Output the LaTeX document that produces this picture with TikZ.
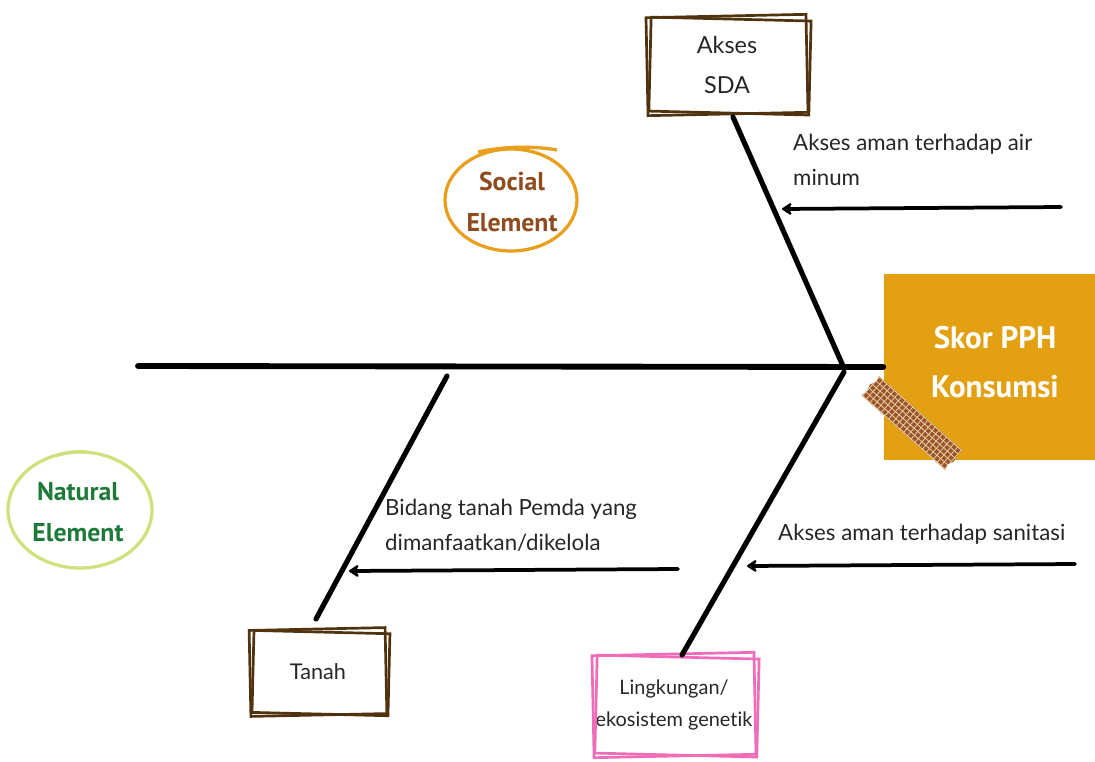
\documentclass[tikz,border=0pt]{standalone}
\usepackage{fontspec}
\setmainfont{Lato}[Ligatures=NoCommon]
\newfontfamily\titlefont{PT Sans}
\usetikzlibrary{arrows.meta,calc}

\definecolor{headgold}{HTML}{E3A012}
\definecolor{framebrown}{HTML}{50320E}
\definecolor{framepink}{HTML}{F06CB8}
\definecolor{socialring}{HTML}{E8A01E}
\definecolor{socialtext}{HTML}{8E4B1E}
\definecolor{naturering}{HTML}{CDE27C}
\definecolor{naturetext}{HTML}{1F7A3A}
\definecolor{tapebrown}{HTML}{9A5528}
\definecolor{tapegrid}{HTML}{E9CDA6}
\definecolor{labelgray}{HTML}{262626}

% two slightly twisted outlines round a node, like a hand-drawn frame
\newcommand{\frametwice}[4]{%
  \begin{scope}[shift={(#1.center)}]
    \draw[#4, line width=2.3pt, rotate=1.2] (-#2,-#3) rectangle (#2,#3);
    \draw[#4, line width=2.3pt, rotate=-1.4] (-#2+3,-#3+3) rectangle (#2+3,#3-1);
  \end{scope}}

\tikzset{
  spineline/.style={line width=5pt, line cap=round},
  bone/.style={line width=4.4pt, line cap=round},
  cause/.style={line width=3.2pt, line cap=round,
    -{Stealth[length=10pt, width=13pt, round]}},
  causelabel/.style={anchor=north west, inner sep=0pt, align=left,
    text=labelgray, font=\fontsize{19}{30}\selectfont},
  boxtext/.style={inner sep=0pt, align=center, text=labelgray},
  headbox/.style={fill=headgold, inner sep=0pt,
    minimum width=6.36cm, minimum height=5.58cm},
  headtext/.style={align=center, text=white,
    font=\titlefont\bfseries\fontsize{26.5}{42}\selectfont},
  ring/.style={line width=2.8pt},
  ringtext/.style={align=center,
    font=\titlefont\bfseries\fontsize{22}{35}\selectfont},
}

\begin{document}
\begin{tikzpicture}[x=0.03cm, y=-0.03cm]
\useasboundingbox (0,0) rectangle (1095,762);

% effect box
\node[headbox] (head) at (989.5,367) {};
\node[headtext] (headlbl) at (995,362) {Skor PPH\\Konsumsi};

% category boxes
\node[boxtext, minimum width=4.8cm, minimum height=3cm,
  font=\fontsize{20}{34}\selectfont] (sda) at (727,65) {Akses\\SDA};
\frametwice{sda}{80}{49}{framebrown}
\node[boxtext, minimum width=4.1cm, minimum height=2.6cm,
  font=\fontsize{18.5}{30}\selectfont] (tanah) at (318,672) {Tanah};
\frametwice{tanah}{68}{43}{framebrown}
\node[boxtext, minimum width=4.9cm, minimum height=3.1cm,
  font=\fontsize{17}{28}\selectfont] (ling) at (674,705) {Lingkungan/\\ekosistem genetik};
\frametwice{ling}{81}{51}{framepink}

% joints on the spine and ends of the bones
\coordinate (spinetail) at (138,366);
\coordinate (jtop) at (843,366);
\coordinate (jlow) at (844,372);
\coordinate (jleft) at (447,376);
\coordinate (sdafoot) at (733,117);
\coordinate (tanahtop) at (316,619);
\coordinate (lingtop) at (682,655);

% spine and bones
\draw[spineline] (spinetail) -- (head.west);
\draw[bone] (sdafoot) -- (jtop);
\draw[bone] (jleft) -- (tanahtop);
\draw[bone] (jlow) -- (lingtop);

% masking tape over the corner of the effect box
\begin{scope}[shift={(912,423)}, rotate=-41.7]
  \fill[tapebrown] (-56,-13) -- (-54,-7) -- (-57,-1) -- (-55,6) -- (-56,13)
    -- (56,13) -- (54,7) -- (57,1) -- (55,-6) -- (56,-13) -- cycle;
  \begin{scope}
    \clip (-56,-13) -- (-54,-7) -- (-57,-1) -- (-55,6) -- (-56,13)
      -- (56,13) -- (54,7) -- (57,1) -- (55,-6) -- (56,-13) -- cycle;
    \foreach \u in {-60,-55,...,60}
      \draw[tapegrid, line width=0.7pt] (\u,-15) -- (\u,15);
    \foreach \v in {-12.5,-7.5,...,12.5}
      \draw[tapegrid, line width=0.7pt] (-60,\v) -- (60,\v);
  \end{scope}
\end{scope}

% causes
\coordinate (c1start) at (1061,207);
\coordinate (c1tip) at (782,209);
\coordinate (c2start) at (678,569);
\coordinate (c2tip) at (349,571);
\coordinate (c3start) at (1075,564);
\coordinate (c3tip) at (747,566);
\draw[cause] (c1start) -- (c1tip);
\draw[cause] (c2start) -- (c2tip);
\draw[cause] (c3start) -- (c3tip);

\node[causelabel] (c1lbl) at (793,134) {Akses aman terhadap air\\minum};
\node[causelabel] (c2lbl) at (385,499) {Bidang tanah Pemda yang\\dimanfaatkan/dikelola};
\node[causelabel] (c3lbl) at (778,524) {Akses aman terhadap sanitasi};

% group rings
\draw[ring, socialring] (511,200) ellipse [x radius=66, y radius=51];
\draw[ring, socialring] (478,152) .. controls (505,146) and (535,146) .. (557,150);
\node[ringtext, text=socialtext] (social) at (512,202) {Social\\Element};

\draw[ring, naturering] (80,510) ellipse [x radius=72, y radius=58];
\draw[ring, naturering] (55,456) .. controls (68,452) and (78,451) .. (86,452);
\node[ringtext, text=naturetext] (natural) at (78,512) {Natural\\Element};

\end{tikzpicture}
\end{document}
